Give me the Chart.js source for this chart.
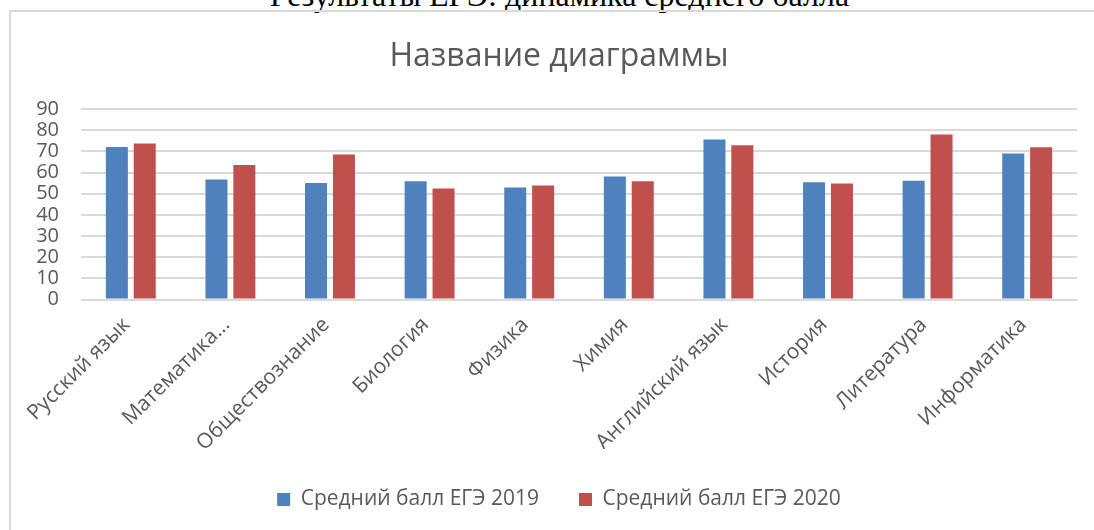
<!DOCTYPE html>
<html lang="ru">
<head>
<meta charset="utf-8">
<title>Результаты ЕГЭ</title>
<script src="https://cdn.jsdelivr.net/npm/chart.js@4.4.1/dist/chart.umd.min.js"></script>
<style>
  html, body { margin: 0; padding: 0; background: #fff; overflow: hidden; }
  body { width: 1094px; height: 530px; position: relative; }
  #heading {
    position: absolute; left: 0; width: 1119px; top: -21px;
    text-align: center; font: 32px/32px "Liberation Serif", "Times New Roman", serif;
    color: #000; white-space: nowrap;
  }
  #frame {
    position: absolute; left: 9px; top: 10px; width: 1100px; height: 540px;
    border-left: 2px solid #D9D9D9; border-top: 2px solid #D9D9D9;
  }
  #wrap { position: absolute; left: 11px; top: 12px; width: 1096px; height: 518px; }
</style>
</head>
<body>
<div id="heading">Результаты ЕГЭ: динамика среднего балла</div>
<div id="frame"></div>
<div id="wrap"><canvas id="chart"></canvas></div>
<script>
// Data
const subjects = ["Русский язык", "Математика...", "Обществознание", "Биология", "Физика",
  "Химия", "Английский язык", "История", "Литература", "Информатика"];
const score2019 = [72, 56.7, 55, 55.9, 52.9, 58.1, 75.6, 55.4, 56.1, 69];
const score2020 = [73.7, 63.6, 68.5, 52.4, 53.9, 55.9, 72.9, 54.8, 78, 71.9];
const seriesNames = ["Средний балл ЕГЭ 2019", "Средний балл ЕГЭ 2020"];
const chartTitle = "Название диаграммы";

const textColor = "#595959";
const gridColor = "#D9D9D9";
const fontFamily = "'Open Sans', 'Noto Sans', sans-serif";

const ctx = document.getElementById("chart").getContext("2d");
new Chart(ctx, {
  type: "bar",
  data: {
    labels: subjects,
    datasets: [
      { label: seriesNames[0], data: score2019, backgroundColor: "#4F81BD" },
      { label: seriesNames[1], data: score2020, backgroundColor: "#C0504D" }
    ]
  },
  options: {
    responsive: true,
    maintainAspectRatio: false,
    animation: false,
    layout: { padding: { left: 0, right: 0, top: 0, bottom: 10 } },
    datasets: { bar: { categoryPercentage: 0.56, barPercentage: 0.79 } },
    plugins: {
      title: {
        display: true,
        text: chartTitle,
        color: textColor,
        font: { family: fontFamily, size: 32, weight: "normal" },
        padding: { top: 26, bottom: 32.6 }
      },
      legend: {
        position: "bottom",
        labels: {
          color: textColor,
          font: { family: fontFamily, size: 21 },
          boxWidth: 13,
          boxHeight: 13,
          padding: 40
        }
      },
      tooltip: { enabled: false }
    },
    scales: {
      x: {
        grid: { display: false, drawTicks: false },
        border: { display: false },
        ticks: {
          color: textColor,
          font: { family: fontFamily, size: 21 },
          maxRotation: 45,
          minRotation: 45,
          autoSkip: false,
          padding: 13,
          labelOffset: -4
        },
        afterFit: (scale) => { scale.height = 149.5; }
      },
      y: {
        min: 0,
        max: 90,
        ticks: {
          stepSize: 10,
          autoSkip: false,
          color: textColor,
          font: { family: fontFamily, size: 20 },
          padding: 22
        },
        grid: { color: gridColor, lineWidth: 2, drawTicks: false },
        border: { display: false },
        afterFit: (scale) => { scale.width = 70; }
      },
      // empty right-hand spacer, keeps the plot narrower than the title/legend area
      yRight: {
        position: "right",
        min: 0,
        max: 90,
        ticks: { display: false },
        grid: { display: false, drawTicks: false },
        border: { display: false },
        afterFit: (scale) => { scale.width = 30; }
      }
    }
  }
});
</script>
</body>
</html>
